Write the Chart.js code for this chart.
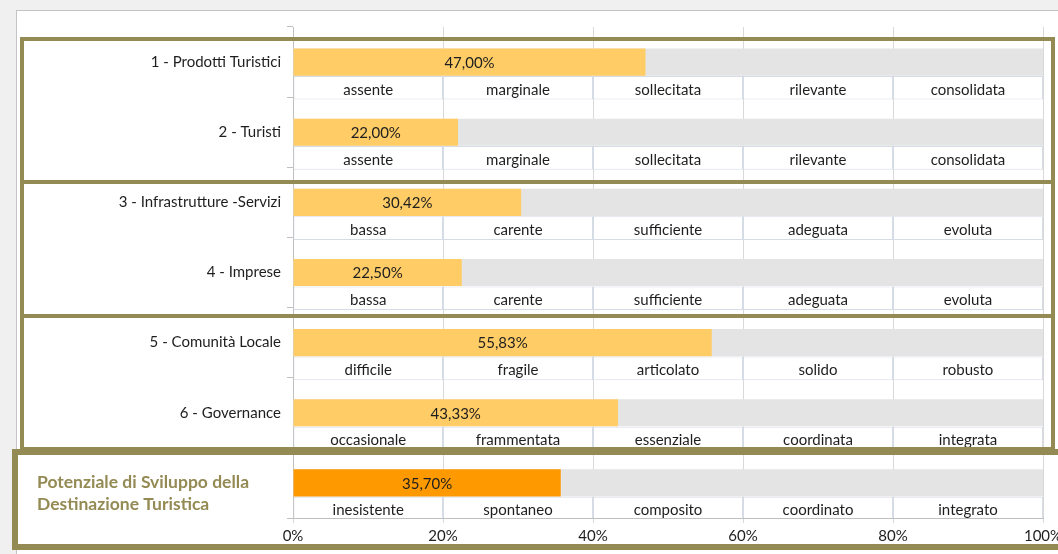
<!DOCTYPE html>
<html>

<head>
    <meta charset="UTF-8">
    <title>Potenziale di Sviluppo della Destinazione Turistica</title>
    <script src="https://cdn.jsdelivr.net/npm/chart.js@4.4.0/dist/chart.umd.min.js"></script>
    <style>
        html, body { margin: 0; padding: 0; background: #f0f0f0; }
    </style>
</head>

<body>
    <canvas id="chart" width="1058" height="554"></canvas>

    <script>
        // --- data ---
        const categories = [
            '1 - Prodotti Turistici',
            '2 - Turisti',
            '3 - Infrastrutture -Servizi',
            '4 - Imprese',
            '5 - Comunità Locale',
            '6 - Governance',
            'Potenziale di Sviluppo della Destinazione Turistica'
        ];
        const values = [47.00, 22.00, 30.42, 22.50, 55.83, 43.33, 35.70];
        const levels = [
            ['assente', 'marginale', 'sollecitata', 'rilevante', 'consolidata'],
            ['assente', 'marginale', 'sollecitata', 'rilevante', 'consolidata'],
            ['bassa', 'carente', 'sufficiente', 'adeguata', 'evoluta'],
            ['bassa', 'carente', 'sufficiente', 'adeguata', 'evoluta'],
            ['difficile', 'fragile', 'articolato', 'solido', 'robusto'],
            ['occasionale', 'frammentata', 'essenziale', 'coordinata', 'integrata'],
            ['inesistente', 'spontaneo', 'composito', 'coordinato', 'integrato']
        ];
        const xTicks = [0, 20, 40, 60, 80, 100];

        // --- styles ---
        const FONT = 'Lato, "Open Sans", sans-serif';
        const TEXT = '#1e1e1e';
        const OLIVE = '#948a54';
        const barColors = values.map((v, i) => i === values.length - 1 ? '#ff9900' : '#ffcc66');
        const totalRow = values.length - 1;

        // olive frames round the groups of rows (decoration, x1, y1, x2, y2, line width)
        const frames = [
            [22, 39, 1053, 182, 4],
            [22, 182, 1053, 316, 4],
            [22, 316, 1053, 449, 4],
            [15, 452, 1070, 547, 6]
        ];

        const cellDatasets = xTicks.slice(0, -1).map((start, j) => ({
            label: 'livello ' + (j + 1),
            data: categories.map(() => [start, xTicks[j + 1]]),
            backgroundColor: '#ffffff',
            borderColor: '#d6dce6',
            borderWidth: 1,
            borderSkipped: false,
            stack: 'cells',
            categoryPercentage: 1.1,
            barPercentage: 0.92
        }));

        const backgroundPlugin = {
            id: 'panel',
            beforeDraw(chart) {
                const ctx = chart.ctx;
                ctx.save();
                ctx.fillStyle = '#f0f0f0';
                ctx.fillRect(0, 0, chart.width, chart.height);
                ctx.fillStyle = '#ffffff';
                ctx.fillRect(17, 11, chart.width, chart.height);
                ctx.strokeStyle = '#c4c4c4';
                ctx.lineWidth = 1;
                ctx.strokeRect(16.5, 10.5, chart.width, chart.height);
                ctx.restore();
            }
        };

        const textPlugin = {
            id: 'texts',
            afterDatasetsDraw(chart) {
                const ctx = chart.ctx;
                ctx.save();
                ctx.font = '15px ' + FONT;
                ctx.fillStyle = TEXT;
                ctx.textAlign = 'center';
                ctx.textBaseline = 'middle';
                chart.getDatasetMeta(1).data.forEach((bar, i) => {
                    const txt = values[i].toFixed(2).replace('.', ',') + '%';
                    ctx.fillText(txt, (bar.x + bar.base) / 2, bar.y + 1);
                });
                for (let j = 0; j < cellDatasets.length; j++) {
                    chart.getDatasetMeta(3 + j).data.forEach((cell, i) => {
                        ctx.fillText(levels[i][j], (cell.x + cell.base) / 2, cell.y + 2);
                    });
                }
                ctx.restore();
            },
            afterDraw(chart) {
                const ctx = chart.ctx;
                ctx.save();
                ctx.strokeStyle = OLIVE;
                frames.forEach(([x1, y1, x2, y2, w]) => {
                    ctx.lineWidth = w;
                    ctx.strokeRect(x1, y1, x2 - x1, y2 - y1);
                });
                // label of the summary row, left aligned in olive
                const yScale = chart.scales.y;
                const yc = yScale.getPixelForValue(totalRow) + 10;
                ctx.fillStyle = OLIVE;
                ctx.font = 'bold 17.5px ' + FONT;
                ctx.textAlign = 'left';
                ctx.textBaseline = 'middle';
                ctx.fillText('Potenziale di Sviluppo della', 37, yc - 11);
                ctx.fillText('Destinazione Turistica', 37, yc + 11);
                ctx.restore();
            }
        };

        const chart = new Chart(document.getElementById('chart').getContext('2d'), {
            type: 'bar',
            data: {
                labels: categories,
                datasets: [
                    // empty slot so the value bar sits centred on its row
                    { label: '', data: categories.map(() => null), stack: 'pad' },
                    {
                        label: 'valore',
                        data: values,
                        backgroundColor: barColors,
                        stack: 'bar',
                        categoryPercentage: 1,
                        barPercentage: 1.16
                    },
                    {
                        label: 'scala',
                        data: categories.map(() => xTicks[xTicks.length - 1]),
                        backgroundColor: '#e4e4e4',
                        stack: 'bar',
                        categoryPercentage: 1,
                        barPercentage: 1.16
                    },
                    ...cellDatasets
                ]
            },
            options: {
                indexAxis: 'y',
                responsive: false,
                animation: false,
                layout: { padding: { top: 27, right: 15, left: 0, bottom: 0 } },
                plugins: {
                    legend: { display: false },
                    tooltip: { enabled: false }
                },
                scales: {
                    x: {
                        stacked: false,
                        min: 0,
                        max: 100,
                        afterFit: (scale) => {
                            scale.height = 36;
                            scale.paddingLeft = 0;
                            scale.paddingRight = 0;
                        },
                        ticks: {
                            stepSize: 20,
                            padding: 4,
                            color: TEXT,
                            font: { family: FONT, size: 15 },
                            callback: (v) => v + '%'
                        },
                        grid: { color: '#d9d9d9', tickLength: 5 },
                        border: { color: '#bfbfbf' }
                    },
                    y: {
                        afterFit: (scale) => { scale.width = 293; },
                        ticks: {
                            color: TEXT,
                            padding: 6,
                            font: { family: FONT, size: 15 },
                            callback: (v, i) => i === totalRow ? '' : categories[i]
                        },
                        grid: { offset: true, drawOnChartArea: false, tickLength: 6, color: '#bfbfbf' },
                        border: { color: '#bfbfbf' }
                    }
                }
            },
            plugins: [backgroundPlugin, textPlugin]
        });
    </script>
</body>

</html>
